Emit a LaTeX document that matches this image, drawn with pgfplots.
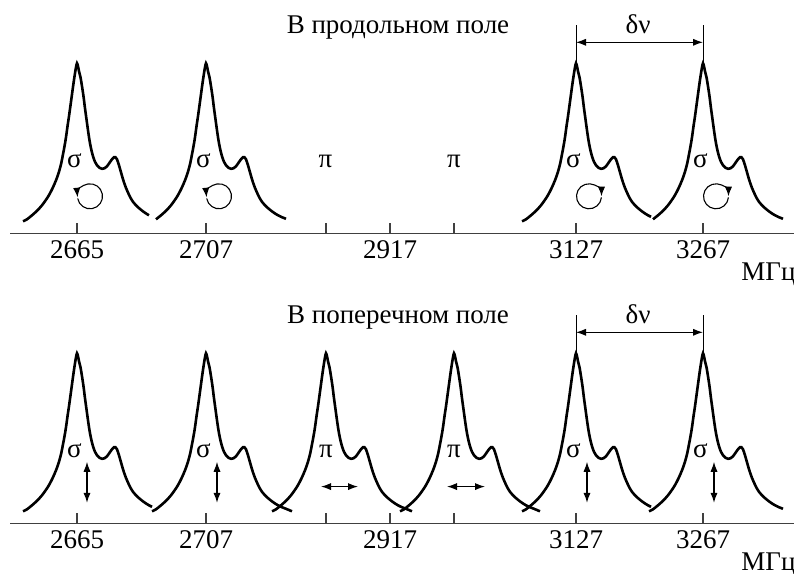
\documentclass[border=0pt]{standalone}
\usepackage{pgfplots}
\pgfplotsset{compat=1.18}
\usepackage{pgfplotstable}
\usepackage{fontspec}
\setmainfont{Liberation Serif}
\usetikzlibrary{arrows.meta}

\pgfplotstableread{
dx h
-54 12
-50 14
-45 18
-40 22.5
-35 28
-30 35
-27 40
-24 46
-21 53
-18.5 60
-16 69
-14 79
-12.5 87
-11 96
-9.5 107
-8 117
-6.5 128
-5 139
-3.5 150
-2 160
-1 166
0 170
1 167
2 162
3.5 156
5 147
6.5 137
8 125
9.5 114
11 103
12.5 93
14 85
16 77
18 71.5
20 68
22.5 65.5
25 64.5
27.5 65
30 67
32.5 70.5
35 74
37 76
38.5 76
40 74
42 68
44 61
46 54
48 48
50 43
53 36.5
56 31.5
60 27
64 23.5
68 20.5
72 18
75 16.5
}\peakA

\pgfplotstableread{
dx h
-54 12
-50 14
-45 18
-40 22.5
-35 28
-30 35
-27 40
-24 46
-21 53
-18.5 60
-16 69
-14 79
-12.5 87
-11 96
-9.5 107
-8 117
-6.5 128
-5 139
-3.5 150
-2 160
-1 166
0 170
1 167
2 162
3.5 156
5 147
6.5 137
8 125
9.5 114
11 103
12.5 93
14 85
16 77
18 71.5
20 68
22.5 65.5
25 64.5
27.5 65
30 67
32.5 70.5
35 74
37 76
38.5 76
40 74
42 68
44 61
46 54
48 48
50 43
53 36.5
56 31.5
60 27
64 23.5
68 20.5
72 18
75 16.5
80 14.5
86 12
}\peakB

\newcommand\fs{\fontsize{13.5}{16}\selectfont}
\tikzset{
  darr/.style={{Latex[length=5pt,width=3.6pt]}-{Latex[length=5pt,width=3.6pt]}, line width=0.6pt},
  harr/.style={-{Latex[length=4.8pt,width=3.6pt]}, line width=0.55pt},
}
\newcommand\ccw[1]{\draw[harr] ([shift={(-170:6.25pt)}]axis cs:#1,37) arc[start angle=-170, end angle=185, radius=6.25pt];}
\newcommand\cw[1]{\draw[harr] ([shift={(355:6.25pt)}]axis cs:#1,37) arc[start angle=355, end angle=0, radius=6.25pt];}

\pgfplotsset{
  panel/.style={
    x=0.5pt, y=0.5pt, xmin=10, xmax=794, ymin=0, ymax=220,
    axis x line*=bottom, axis y line=none,
    axis line style={black!75, line width=0.6pt},
    xtick={77,206,326,390,454,576,703},
    xticklabels={2665,2707,,2917,,3127,3267},
    xtick align=inside, major tick length=5pt,
    tick style={black!75, line width=0.6pt},
    xticklabel style={font=\fs, anchor=base, yshift=-12.5pt},
    /pgf/number format/assume math mode=true,
    clip=false,
  },
  pk/.style={black, line width=1.3pt, smooth, tension=0.5, no markers},
}

\begin{document}
\begin{tikzpicture}[x=0.5pt,y=0.5pt]
% upper panel
\begin{axis}[panel, at={(10,340.7)}, anchor=south west]
\addplot[pk, restrict x to domain=0:151] table[x expr=\thisrow{dx}+77, y=h]{\peakA};
\addplot[pk, restrict x to domain=156:286] table[x expr=\thisrow{dx}+206, y=h]{\peakB};
\addplot[pk] table[x expr=\thisrow{dx}+576, y=h]{\peakA};
\addplot[pk, restrict x to domain=650:785] table[x expr=\thisrow{dx}+703, y=h]{\peakB};
\node[font=\fs, anchor=base] at (axis cs:398,200) {В продольном поле};
\node[font=\fs, anchor=base west, inner sep=0pt] at (axis cs:741,-47) {МГц};
\node[font=\fs, anchor=base] at (axis cs:74.5,66) {σ};
\node[font=\fs, anchor=base] at (axis cs:203.5,66) {σ};
\node[font=\fs, anchor=base] at (axis cs:325.5,66) {π};
\node[font=\fs, anchor=base] at (axis cs:454,66) {π};
\node[font=\fs, anchor=base] at (axis cs:573.5,66) {σ};
\node[font=\fs, anchor=base] at (axis cs:700.5,66) {σ};
\ccw{90}
\ccw{219}
\cw{589}
\cw{716}
\draw[line width=0.5pt] (axis cs:576,170) -- (axis cs:576,208);
\draw[line width=0.5pt] (axis cs:703,170) -- (axis cs:703,208);
\draw[darr] (axis cs:576,191) -- (axis cs:703,191);
\node[font=\fs, anchor=base] at (axis cs:638,200) {δν};
\end{axis}
% lower panel
\begin{axis}[panel, at={(10,50.7)}, anchor=south west]
\addplot[pk] table[x expr=\thisrow{dx}+77, y=h]{\peakA};
\addplot[pk] table[x expr=\thisrow{dx}+206, y=h]{\peakB};
\addplot[pk] table[x expr=\thisrow{dx}+326, y=h]{\peakB};
\addplot[pk] table[x expr=\thisrow{dx}+454, y=h]{\peakB};
\addplot[pk] table[x expr=\thisrow{dx}+576, y=h]{\peakA};
\addplot[pk, restrict x to domain=640:783] table[x expr=\thisrow{dx}+703, y=h]{\peakB};
\node[font=\fs, anchor=base] at (axis cs:398,200) {В поперечном поле};
\node[font=\fs, anchor=base west, inner sep=0pt] at (axis cs:741,-47) {МГц};
\node[font=\fs, anchor=base] at (axis cs:74.5,66) {σ};
\node[font=\fs, anchor=base] at (axis cs:203.5,66) {σ};
\node[font=\fs, anchor=base] at (axis cs:326,66) {π};
\node[font=\fs, anchor=base] at (axis cs:454,66) {π};
\node[font=\fs, anchor=base] at (axis cs:573.5,66) {σ};
\node[font=\fs, anchor=base] at (axis cs:700.5,66) {σ};
\draw[darr] (axis cs:87,20.5) -- (axis cs:87,61.5);
\draw[darr] (axis cs:217,20.5) -- (axis cs:217,61.5);
\draw[darr] (axis cs:321,36.7) -- (axis cs:358,36.7);
\draw[darr] (axis cs:447,36.7) -- (axis cs:485,36.7);
\draw[darr] (axis cs:587,20.5) -- (axis cs:587,61.5);
\draw[darr] (axis cs:714,20.5) -- (axis cs:714,61.5);
\draw[line width=0.5pt] (axis cs:576,170) -- (axis cs:576,208);
\draw[line width=0.5pt] (axis cs:703,170) -- (axis cs:703,208);
\draw[darr] (axis cs:576,191) -- (axis cs:703,191);
\node[font=\fs, anchor=base] at (axis cs:638,200) {δν};
\end{axis}
\pgfresetboundingbox
\path[use as bounding box] (0,0) rectangle (794,574);
\end{tikzpicture}
\end{document}
